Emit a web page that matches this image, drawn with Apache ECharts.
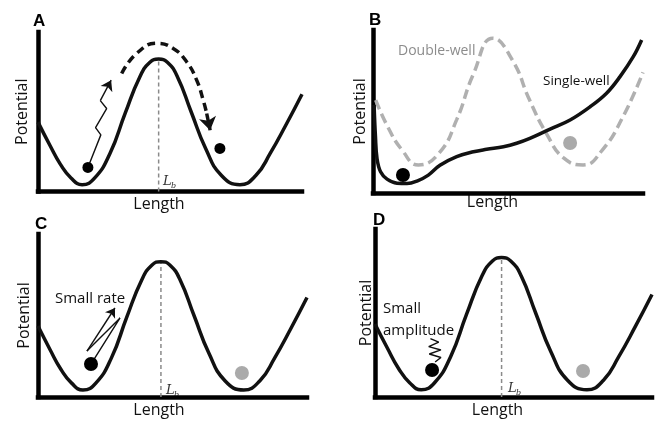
<!DOCTYPE html>
<html>
<head>
<meta charset="utf-8">
<script src="https://cdn.jsdelivr.net/npm/echarts@6/dist/echarts.min.js"></script>
<style>html,body{margin:0;padding:0;background:#fff}#c{width:659px;height:424px}</style>
</head>
<body>
<div id="c"></div>
<script>
// ---- data (Length 0-100, Potential 0-100 per panel) ----
// shared double-well landscape for panels A, C, D
const wellLength    = [0,4.5,8.5,12.5,16.7,21.5,27.3,33,38.6,42.4,45.7,49,52.8,58,63.5,69.5,76.5,82.5,88,94,100];
const wellPotential = [43.5,29,17,8.5,4.3,8.5,24,49,72,81,83,81,72,50,27,10,4.3,10,24,42,61];
// panel B
const bDoubleLength    = [1,5.5,10.7,16.8,24.5,31,37.2,44.4,51.6,58,64.4,70.6,77.8,85,92.5,100];
const bDoublePotential = [57,40.5,26.5,17.2,24.5,45,73,95,81.6,57,36,21.5,17.2,26.5,46.5,74];
const bSingleLength    = [0.4,0.9,1.5,2.8,5.2,8.9,12.6,16.5,20.5,24.8,31,37.2,42.1,48.3,53.2,58.1,65.6,73,80.4,86.5,91.5,96.4,99.5];
const bSinglePotential = [54,35,21,13,8.5,6,5.8,7.5,11,17,22.3,25.3,26.8,28.4,30.5,33.5,39.2,44.8,52.9,61.2,71.4,83.6,93.9];
// particles
const aParticles = [[18.9,15.1],[68.9,27]];
const bBlack = [[11.1,11]], bGray = [[73,30.7]];
const cBlack = [[19.7,20.2]], cGray = [[75.8,14.7]];
const dBlack = [[20.6,16.1]], dGray = [[75.1,15.5]];
// annotation paths
const aKick = [[18.9,15.1],[23.8,35.5],[21.8,40],[26,52],[23.6,57],[27.7,69.8]];
const aHop  = [[31.7,74],[37.4,86.6],[45,92.9],[51.2,89.7],[56.3,81.3],[60.1,69.8],[62.6,57.2],[63.9,48.9],[65.2,38.4]];
const cRate = [[19.7,20.2],[30.5,48.5],[18.2,28.2],[28.6,54.6]];
const dAmp  = [[21.7,20.8],[23.8,23.5],[19.6,25.6],[23.8,28.0],[19.4,30],[23,32.7],[20,34.8]];
const axisTitles = {x: 'Length', y: 'Potential'};

const zip = (xs, ys) => xs.map((x, i) => [x, ys[i]]);
const well = zip(wellLength, wellPotential);
const pk = wellPotential.indexOf(Math.max(...wellPotential));
const barrier = [[wellLength[pk], 0], [wellLength[pk], wellPotential[pk]]];

const FONT = 'Open Sans';
const grids = [
  {left: 38, top: 32, width: 264, height: 159.5},
  {left: 373, top: 30, width: 270, height: 163},
  {left: 38, top: 234, width: 269, height: 163},
  {left: 375, top: 229, width: 277, height: 168}
];
const yGap = [8, 5, 6, 1];
const xGap = [5, 1, 5, 5];
const xShift = [22, 31, 27, 32];

const axisLine = {show: true, onZero: false, lineStyle: {color: '#000', width: 4.5, cap: 'square'}};
const xAxes = grids.map((g, i) => ({
  type: 'value', gridIndex: i, min: 0, max: 100,
  axisLine, axisTick: {show: false}, axisLabel: {show: false}, splitLine: {show: false},
  name: axisTitles.x, nameLocation: 'middle', nameGap: xGap[i],
  nameTextStyle: {fontFamily: FONT, fontSize: 16, color: '#111', padding: [0, xShift[i], 0, 0]}
}));
const yAxes = grids.map((g, i) => ({
  type: 'value', gridIndex: i, min: 0, max: 100,
  axisLine, axisTick: {show: false}, axisLabel: {show: false}, splitLine: {show: false},
  name: axisTitles.y, nameLocation: 'middle', nameGap: yGap[i],
  nameTextStyle: {fontFamily: FONT, fontSize: 16, color: '#111'}
}));

const curve = (i, data, extra) => Object.assign({
  type: 'line', xAxisIndex: i, yAxisIndex: i, data, smooth: 0.5, showSymbol: false,
  clip: false, silent: true, lineStyle: {color: '#111', width: 3.5}, z: 3
}, extra || {});
const dash = (i) => ({
  type: 'line', xAxisIndex: i, yAxisIndex: i, data: barrier, showSymbol: false, silent: true,
  lineStyle: {color: '#8a8a8a', width: 1.5, type: [4, 3]}, z: 1
});
const dots = (i, data, color, size) => ({
  type: 'scatter', xAxisIndex: i, yAxisIndex: i, data, symbolSize: size,
  itemStyle: {color, opacity: 1}, silent: true, z: 5
});
const path = (i, data, width, extra) => Object.assign({
  type: 'line', xAxisIndex: i, yAxisIndex: i, data, showSymbol: false, silent: true, clip: false,
  lineStyle: {color: '#111', width: width}, z: 4
}, extra || {});
const arrowHead = (i, from, to, width, size) => ({
  type: 'lines', coordinateSystem: 'cartesian2d', xAxisIndex: i, yAxisIndex: i,
  symbol: ['none', 'arrow'], symbolSize: [0, size], silent: true, z: 4,
  lineStyle: {color: '#111', width: width, opacity: 1},
  data: [{coords: [from, to]}]
});

const series = [
  // A
  dash(0),
  curve(0, well),
  path(0, aKick.slice(0, aKick.length - 1), 1.4),
  arrowHead(0, aKick[aKick.length - 2], aKick[aKick.length - 1], 1.4, 10),
  path(0, aHop.slice(0, aHop.length - 1), 3.5, {smooth: 0.5, lineStyle: {color: '#111', width: 3.5, type: [8, 5]}}),
  arrowHead(0, aHop[aHop.length - 2], aHop[aHop.length - 1], 3.5, 13),
  dots(0, aParticles, '#000', 11),
  // B
  curve(1, zip(bDoubleLength, bDoublePotential), {lineStyle: {color: '#b0b0b0', width: 3.5, type: [10, 5]}, z: 2}),
  curve(1, zip(bSingleLength, bSinglePotential), {smooth: 0.4}),
  dots(1, bBlack, '#000', 14),
  dots(1, bGray, '#aaa', 14),
  // C
  dash(2),
  curve(2, well),
  path(2, cRate.slice(0, cRate.length - 1), 1.4),
  arrowHead(2, cRate[cRate.length - 2], cRate[cRate.length - 1], 1.4, 9),
  dots(2, cBlack, '#000', 14),
  dots(2, cGray, '#aaa', 14),
  // D
  dash(3),
  curve(3, well),
  path(3, dAmp, 1.4),
  dots(3, dBlack, '#000', 14),
  dots(3, dGray, '#aaa', 14)
];

const txt = (x, y, text, style) => ({
  type: 'text', x, y, silent: true,
  style: Object.assign({text, fill: '#111', font: '15px "' + FONT + '"', verticalAlign: 'middle', align: 'left'}, style || {})
});
const letter = (x, y, t) => txt(x, y, t, {font: 'bold 17px "Liberation Sans"', fill: '#000'});
const lb = (x, y) => [
  txt(x, y, 'L', {font: 'italic 13px "DejaVu Serif"', fill: '#333'}),
  txt(x + 8, y + 3.5, 'b', {font: 'italic 8px "DejaVu Serif"', fill: '#333'})
];

const graphic = [
  letter(33, 21, 'A'), letter(369, 20, 'B'), letter(35, 224, 'C'), letter(373, 220, 'D'),
  txt(398, 51, 'Double-well', {fill: '#8c8c8c', font: '14px "' + FONT + '"'}),
  txt(543, 81, 'Single-well', {font: '13.5px "' + FONT + '"'}),
  txt(55, 298.5, 'Small rate'),
  txt(383, 308.5, 'Small'),
  txt(383, 330.5, 'amplitude'),
  ...lb(163, 182), ...lb(166, 391), ...lb(508, 389)
];

const chart = echarts.init(document.getElementById('c'), null, {renderer: 'canvas'});
chart.setOption({
  animation: false,
  backgroundColor: '#fff',
  grid: grids.map(g => Object.assign({containLabel: false, outerBoundsMode: 'none'}, g)),
  xAxis: xAxes,
  yAxis: yAxes,
  series,
  graphic
});
</script>
</body>
</html>
